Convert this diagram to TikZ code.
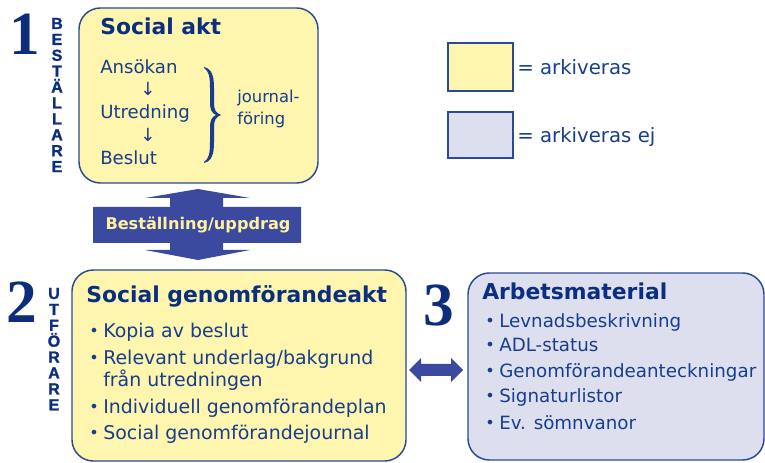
\documentclass[tikz,border=0pt]{standalone}
\usepackage{fontspec}
\setmainfont{DejaVu Sans}
\newfontfamily\numfont{Liberation Serif}
\newfontfamily\vertfont[BoldFeatures={FakeBold=1.5}]{Liberation Sans}
\definecolor{yel}{HTML}{FEF5AE}
\definecolor{lav}{HTML}{DDDFEE}
\definecolor{bord}{HTML}{2A4A95}
\definecolor{txt}{HTML}{173E8E}
\definecolor{ttl}{HTML}{0A2E80}
\definecolor{numc}{HTML}{0B2D7A}
\definecolor{arr}{HTML}{3B4A9E}
\definecolor{arrtxt}{HTML}{FFF1A0}
\tikzset{
  bigbox/.style={draw=bord, line width=1.1pt, rounded corners=16pt, rectangle, inner sep=0pt},
  legbox/.style={draw=bord, line width=1.1pt, rectangle, inner sep=0pt, minimum width=48.75pt},
  ttltext/.style={anchor=base west, inner sep=0pt, text=ttl, font=\fontsize{16.4}{18}\selectfont\bfseries},
  bodytext/.style={anchor=base west, inner sep=0pt, text=txt, font=\fontsize{13.6}{16}\selectfont},
  smalltext/.style={anchor=base west, inner sep=0pt, text=txt, font=\fontsize{12.3}{14}\selectfont},
  bultext/.style={anchor=base west, inner sep=0pt, text=txt, font=\fontsize{14.2}{16}\selectfont},
  bul3text/.style={anchor=base west, inner sep=0pt, text=txt, font=\fontsize{13.7}{16}\selectfont},
  bulletdot/.style={anchor=base west, inner sep=0pt, text=txt, font=\fontsize{12}{14}\selectfont},
  legtext/.style={anchor=base west, inner sep=0pt, text=txt, font=\fontsize{14.8}{16}\selectfont},
  bignum/.style={anchor=base west, inner sep=0pt, text=numc, font=\fontsize{46}{48}\selectfont\numfont\bfseries},
  vlet/.style={anchor=base, inner sep=0pt, text=ttl, font=\vertfont\fontsize{12}{13}\selectfont\bfseries},
  arrowshape/.style={fill=arr, draw=none},
}
\begin{document}
\begin{tikzpicture}[x=0.75pt,y=-0.75pt]
\useasboundingbox (0,0) rectangle (765,463);

% Box 1
\node[bigbox, fill=yel, minimum width=179.25pt, minimum height=131.25pt] (box1) at (198.5,95.5) {};
\node[ttltext] (t1) at (100,35) {Social akt};
\node[bodytext] (ans) at (100,74) {Ansökan};
\node[bodytext, anchor=base] (ar1) at (148,96) {↓};
\node[bodytext] (utr) at (100,119) {Utredning};
\node[bodytext, anchor=base] (ar2) at (148,142) {↓};
\node[bodytext] (bes) at (100,165) {Beslut};
\fill[txt] (204,67) .. controls (212,69) and (214,76) .. (214,88) -- (214,103) .. controls (214,110) and (216,113) .. (221,115)
  .. controls (216,117) and (214,120) .. (214,127) -- (214,142) .. controls (214,154) and (212,161) .. (204,163)
  -- (204,162) .. controls (209,159) and (210,153) .. (210,142) -- (210,127) .. controls (210,120) and (212,117) .. (216,115)
  .. controls (212,113) and (210,110) .. (210,103) -- (210,88) .. controls (210,77) and (209,71) .. (204,68) -- cycle;
\node[smalltext] (jf1) at (237,103) {journal-};
\node[smalltext] (jf2) at (237,125) {föring};

\node[bignum] (n1) at (9,55) {1};
\foreach \l [count=\i] in {B,E,S,T,Ä,L,L,A,R,E}
  \node[vlet] (b\i) at (57,{29+15.9*(\i-1)}) {\l};

% Legend
\node[legbox, fill=yel, minimum height=36pt] (leg1) at (480.5,67) {};
\node[legtext] (lt1) at (517,75) {= arkiveras};
\node[legbox, fill=lav, minimum height=34.5pt] (leg2) at (480.5,135) {};
\node[legtext] (lt2) at (517,143) {= arkiveras ej};

% Vertical double arrow
\path[arrowshape] (198,189) -- (250,198) -- (223,198) -- (223,207) -- (301,207) -- (301,243) -- (223,243) -- (223,250) -- (250,250) -- (198,260) -- (145,250) -- (170,250) -- (170,243) -- (93,243) -- (93,207) -- (170,207) -- (170,198) -- (145,198) -- cycle;
\node[inner sep=0pt, text=arrtxt, font=\fontsize{12.1}{14}\selectfont\bfseries] (bu) at (198,225) {Beställning/uppdrag};

% Box 2
\node[bigbox, fill=yel, minimum width=250.5pt, minimum height=143.25pt] (box2) at (239,365.5) {};
\node[ttltext] (t2) at (86,303) {Social genomförandeakt};
\node[bulletdot] (b2a) at (89,337) {•};
\node[bultext] (s2a) at (103,338) {Kopia av beslut};
\node[bulletdot] (b2b) at (89,364) {•};
\node[bultext] (s2b) at (103,365) {Relevant underlag/bakgrund};
\node[bultext] (s2c) at (103,387) {från utredningen};
\node[bulletdot] (b2d) at (89,413) {•};
\node[bultext] (s2d) at (103,414) {Individuell genomförandeplan};
\node[bulletdot] (b2e) at (89,439) {•};
\node[bultext] (s2e) at (103,440) {Social genomförandejournal};

\node[bignum] (n2) at (6,323) {2};
\foreach \l [count=\i] in {U,T,F,Ö,R,A,R,E}
  \node[vlet] (u\i) at (54,{299+15.9*(\i-1)}) {\l};

% Horizontal double arrow
\path[arrowshape] (409,370) -- (421,358) -- (421,364) -- (451,364) -- (451,358) -- (463,370) -- (451,382) -- (451,376) -- (421,376) -- (421,382) -- cycle;

% Box 3
\node[bigbox, fill=lav, minimum width=222pt, minimum height=140.25pt] (box3) at (616,366.5) {};
\node[ttltext] (t3) at (482,300) {Arbetsmaterial};
\node[bulletdot] (b3a) at (485,327) {•};
\node[bul3text] (s3a) at (499,328) {Levnadsbeskrivning};
\node[bulletdot] (b3b) at (485,351) {•};
\node[bul3text] (s3b) at (499,352) {ADL-status};
\node[bulletdot] (b3c) at (485,377) {•};
\node[bul3text] (s3c) at (499,378) {Genomförandeanteckningar};
\node[bulletdot] (b3d) at (485,402) {•};
\node[bul3text] (s3d) at (499,403) {Signaturlistor};
\node[bulletdot] (b3e) at (485,429) {•};
\node[bul3text] (s3e) at (499,430) {Ev. sömnvanor};
\node[bignum] (n3) at (423,326) {3};
\end{tikzpicture}
\end{document}
